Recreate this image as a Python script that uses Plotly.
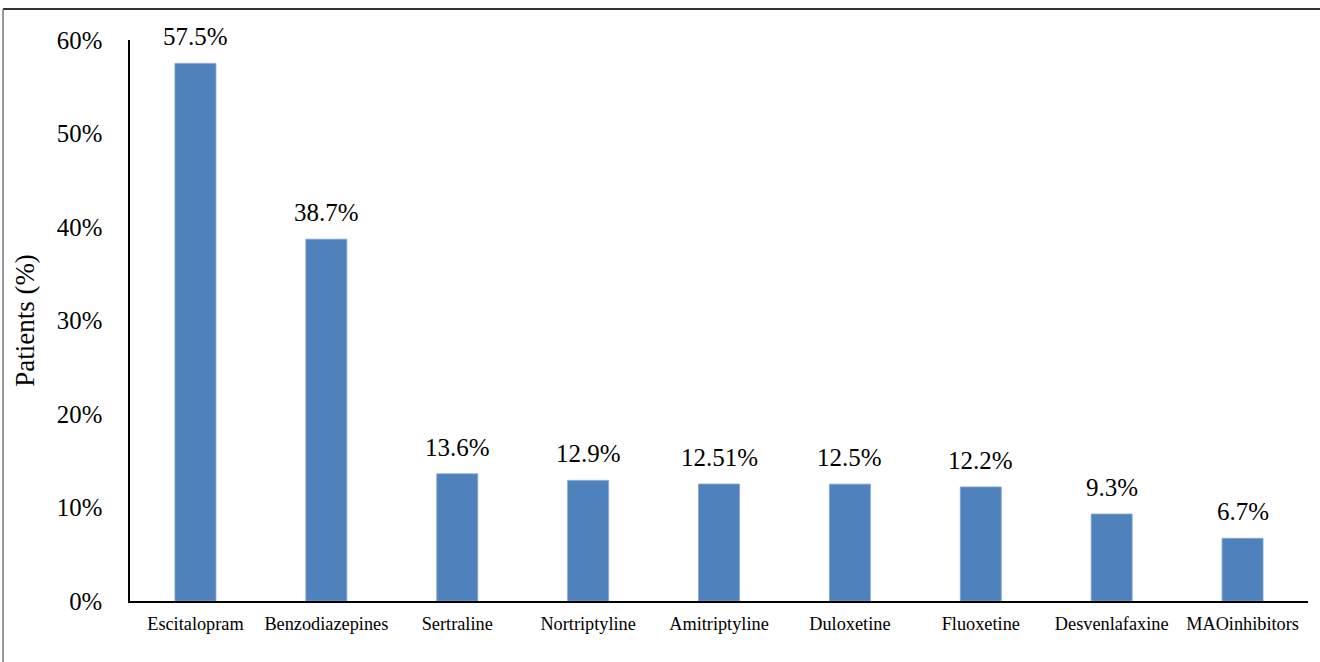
import plotly.graph_objects as go

categories = ["Escitalopram", "Benzodiazepines", "Sertraline", "Nortriptyline",
              "Amitriptyline", "Duloxetine", "Fluoxetine", "Desvenlafaxine", "MAOinhibitors"]
values = [57.5, 38.7, 13.6, 12.9, 12.51, 12.5, 12.2, 9.3, 6.7]
labels = ["57.5%", "38.7%", "13.6%", "12.9%", "12.51%", "12.5%", "12.2%", "9.3%", "6.7%"]
tick_vals = [0, 10, 20, 30, 40, 50, 60]
tick_text = ["0%", "10%", "20%", "30%", "40%", "50%", "60%"]

FONT = "Liberation Serif, Times New Roman, DejaVu Serif, serif"

fig = go.Figure()
fig.add_trace(go.Bar(
    x=categories, y=values,
    marker=dict(color="#4F81BD", line=dict(color="#7FA3D3", width=0.8)),
    cliponaxis=False,
))

for c, v, t in zip(categories, values, labels):
    fig.add_annotation(x=c, y=v, text=t, showarrow=False, yanchor="bottom",
                       yshift=11, font=dict(family=FONT, size=25, color="black"))

fig.update_layout(
    width=1320, height=662,
    margin=dict(l=130, r=12, t=40, b=61),
    plot_bgcolor="white", paper_bgcolor="white",
    bargap=0.687,
    showlegend=False,
    font=dict(family=FONT, color="black"),
)
fig.update_xaxes(
    showline=True, linecolor="black", linewidth=1.5,
    showgrid=False, ticks="", tickfont=dict(family=FONT, size=18.3, color="black"),
    ticklabelstandoff=5,
)
fig.update_yaxes(
    range=[0, 60], tickvals=tick_vals, ticktext=tick_text,
    showline=True, linecolor="black", linewidth=1.5,
    showgrid=False, zeroline=False, ticks="",
    tickfont=dict(family=FONT, size=24.8, color="black"),
    ticklabelstandoff=21,
    title=dict(text="Patients (%)", font=dict(family=FONT, size=27, color="black"), standoff=14),
)

# outer frame (top and left edges visible)
fig.add_shape(type="line", xref="paper", yref="paper",
              x0=-0.1078, x1=1.05, y0=1.0553, y1=1.0553,
              line=dict(color="#333333", width=1.8))
fig.add_shape(type="line", xref="paper", yref="paper",
              x0=-0.1078, x1=-0.1078, y0=-0.2, y1=1.0553,
              line=dict(color="#777777", width=1.5))

fig.write_html("out.html")
